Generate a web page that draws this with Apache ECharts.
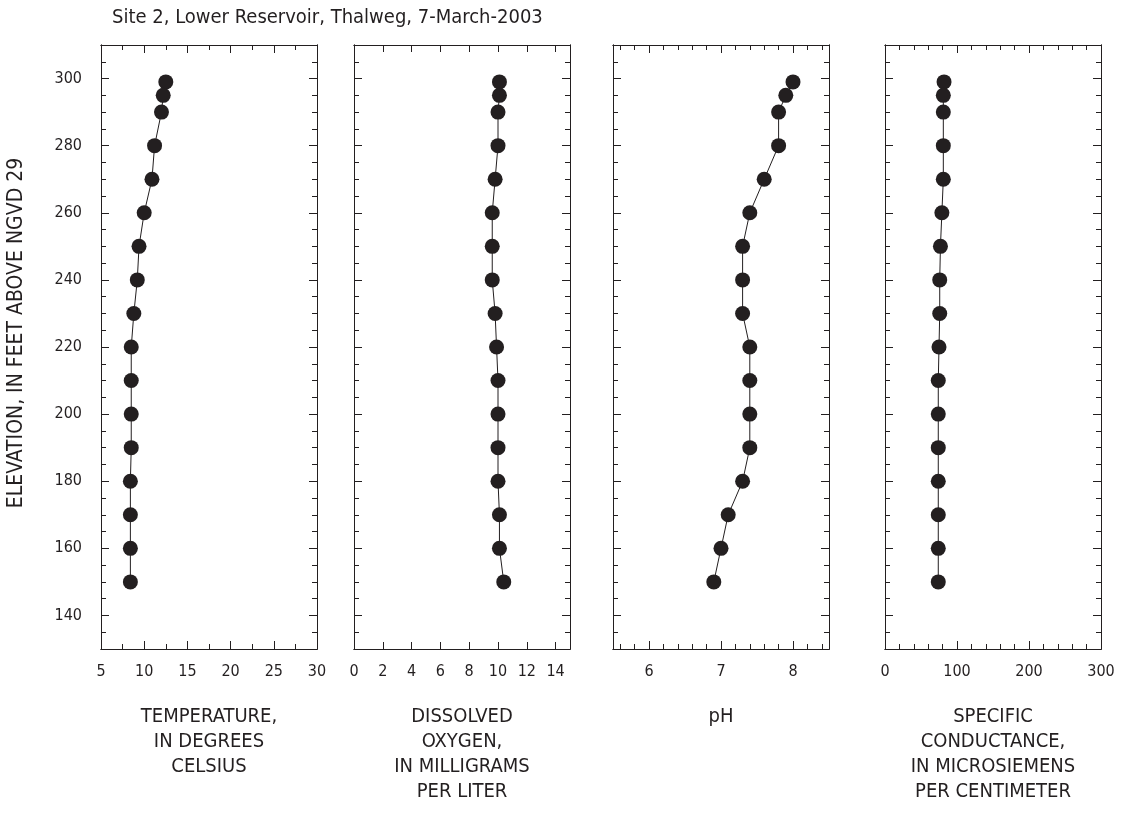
<!DOCTYPE html>
<html>
<head>
<meta charset="utf-8">
<title>Site 2 water-quality profiles</title>
<script src="https://cdn.jsdelivr.net/npm/echarts@6/dist/echarts.min.js"></script>
<style>
  html, body { margin: 0; padding: 0; background: #fff; }
  #chart { width: 1125px; height: 815px; }
</style>
</head>
<body>
<div id="chart"></div>
<script>
// Depth profile, Site 2, Lower Reservoir, Thalweg, 7 March 2003
const elevation       = [299, 295, 290, 280, 270, 260, 250, 240, 230, 220, 210, 200, 190, 180, 170, 160, 150];
const temperature     = [12.5, 12.2, 12.0, 11.2, 10.9, 10.0, 9.4, 9.2, 8.8, 8.5, 8.5, 8.5, 8.5, 8.4, 8.4, 8.4, 8.4];
const dissolvedOxygen = [10.1, 10.1, 10.0, 10.0, 9.8, 9.6, 9.6, 9.6, 9.8, 9.9, 10.0, 10.0, 10.0, 10.0, 10.1, 10.1, 10.4];
const phValues        = [8.0, 7.9, 7.8, 7.8, 7.6, 7.4, 7.3, 7.3, 7.3, 7.4, 7.4, 7.4, 7.4, 7.3, 7.1, 7.0, 6.9];
const conductance     = [82, 81, 81, 81, 81, 79, 77, 76, 76, 75, 74, 74, 74, 74, 74, 74, 74];

// Tick labels
const elevationLabels   = [140, 160, 180, 200, 220, 240, 260, 280, 300];
const temperatureLabels = [5, 10, 15, 20, 25, 30];
const oxygenLabels      = [0, 2, 4, 6, 8, 10, 12, 14];
const phLabels          = [6, 7, 8];
const conductanceLabels = [0, 100, 200, 300];

const INK = '#231f20';
const FONT = '"Liberation Sans Narrow", "DejaVu Sans Condensed", "Roboto", sans-serif';

// values from a to b stepping by s, dropping anything in `skip`
function steps(a, b, s, skip) {
  const out = [];
  for (let v = a; v <= b + 1e-9; v += s) {
    const r = Math.round(v * 1000) / 1000;
    if (!skip || !skip.some(k => Math.abs(k - r) < 1e-6)) out.push(r);
  }
  return out;
}

const panels = [
  { values: temperature, min: 5, max: 30, labels: temperatureLabels,
    major: [10, 15, 20, 25], minor: steps(7.5, 27.5, 5), majorLen: 8,
    name: 'TEMPERATURE,\nIN DEGREES\nCELSIUS', left: 101 },
  { values: dissolvedOxygen, min: 0, max: 15, labels: oxygenLabels,
    major: [2, 4, 6, 8, 10, 12, 14], minor: [], majorLen: 7,
    name: 'DISSOLVED\nOXYGEN,\nIN MILLIGRAMS\nPER LITER', left: 354 },
  { values: phValues, min: 5.5, max: 8.5, labels: phLabels,
    major: [6, 7, 8], minor: steps(5.6, 8.4, 0.2, [6, 7, 8]), majorLen: 8,
    name: 'pH', left: 613 },
  { values: conductance, min: 0, max: 300, labels: conductanceLabels,
    major: [100, 200], minor: steps(20, 280, 20, [100, 200]), majorLen: 8,
    name: 'SPECIFIC\nCONDUCTANCE,\nIN MICROSIEMENS\nPER CENTIMETER', left: 885 }
];

const Y_MIN = 130, Y_MAX = 310;
const yMajor = elevationLabels;
const yMinor = steps(135, 305, 5, elevationLabels);

const grids = [], xAxes = [], yAxes = [], series = [];

panels.forEach((p, i) => {
  grids.push({ left: p.left, top: 45, width: 216, height: 604 });

  const lineStyle = { color: INK, width: 1 };
  const baseX = {
    type: 'value', gridIndex: i, min: p.min, max: p.max,
    splitLine: { show: false },
    axisLine: { show: true, onZero: false, lineStyle: lineStyle }
  };
  // bottom: major ticks, labels, name
  xAxes.push(Object.assign({}, baseX, {
    position: 'bottom',
    axisTick: { show: true, inside: true, length: p.majorLen, customValues: p.major, lineStyle: lineStyle },
    axisLabel: { show: true, customValues: p.labels, margin: 15, fontSize: 16, color: INK,
                 fontFamily: FONT, showMinLabel: true, showMaxLabel: true },
    name: p.name, nameLocation: 'middle', nameGap: 55,
    nameTextStyle: { fontSize: 20, color: INK, fontFamily: FONT, lineHeight: 25, align: 'center' }
  }));
  // bottom: minor ticks
  xAxes.push(Object.assign({}, baseX, {
    position: 'bottom',
    axisTick: { show: p.minor.length > 0, inside: true, length: 5, customValues: p.minor, lineStyle: lineStyle },
    axisLabel: { show: false }
  }));
  // top: major ticks
  xAxes.push(Object.assign({}, baseX, {
    position: 'top',
    axisTick: { show: true, inside: true, length: p.majorLen, customValues: p.major, lineStyle: lineStyle },
    axisLabel: { show: false }
  }));
  // top: minor ticks
  xAxes.push(Object.assign({}, baseX, {
    position: 'top',
    axisTick: { show: p.minor.length > 0, inside: true, length: 5, customValues: p.minor, lineStyle: lineStyle },
    axisLabel: { show: false }
  }));

  const baseY = {
    type: 'value', gridIndex: i, min: Y_MIN, max: Y_MAX,
    splitLine: { show: false },
    axisLine: { show: true, onZero: false, lineStyle: lineStyle }
  };
  yAxes.push(Object.assign({}, baseY, {
    position: 'left',
    axisTick: { show: true, inside: true, length: 8, customValues: yMajor, lineStyle: lineStyle },
    axisLabel: { show: i === 0, customValues: elevationLabels, margin: 19, fontSize: 16,
                 color: INK, fontFamily: FONT }
  }));
  yAxes.push(Object.assign({}, baseY, {
    position: 'left',
    axisTick: { show: true, inside: true, length: 5, customValues: yMinor, lineStyle: lineStyle },
    axisLabel: { show: false }
  }));
  yAxes.push(Object.assign({}, baseY, {
    position: 'right',
    axisTick: { show: true, inside: true, length: 8, customValues: yMajor, lineStyle: lineStyle },
    axisLabel: { show: false }
  }));
  yAxes.push(Object.assign({}, baseY, {
    position: 'right',
    axisTick: { show: true, inside: true, length: 5, customValues: yMinor, lineStyle: lineStyle },
    axisLabel: { show: false }
  }));

  series.push({
    type: 'line',
    xAxisIndex: i * 4, yAxisIndex: i * 4,
    data: p.values.map((v, k) => [v, elevation[k]]),
    symbol: 'circle', symbolSize: 15,
    itemStyle: { color: INK },
    lineStyle: { color: INK, width: 1 },
    clip: false, silent: true
  });
});

const chart = echarts.init(document.getElementById('chart'), null, { renderer: 'canvas' });
chart.setOption({
  backgroundColor: '#ffffff',
  animation: false,
  graphic: [{
    type: 'text', x: 112, y: 18,
    style: { text: 'Site 2, Lower Reservoir, Thalweg, 7-March-2003', fontSize: 20, fill: INK,
             fontFamily: FONT, align: 'left', verticalAlign: 'middle' }
  }, {
    type: 'text', x: 17, y: 333, rotation: Math.PI / 2,
    style: { text: 'ELEVATION, IN FEET ABOVE NGVD 29', fontSize: 21, fill: INK,
             fontFamily: FONT, align: 'center', verticalAlign: 'middle' }
  }],
  grid: grids,
  xAxis: xAxes,
  yAxis: yAxes,
  series: series
});
</script>
</body>
</html>
